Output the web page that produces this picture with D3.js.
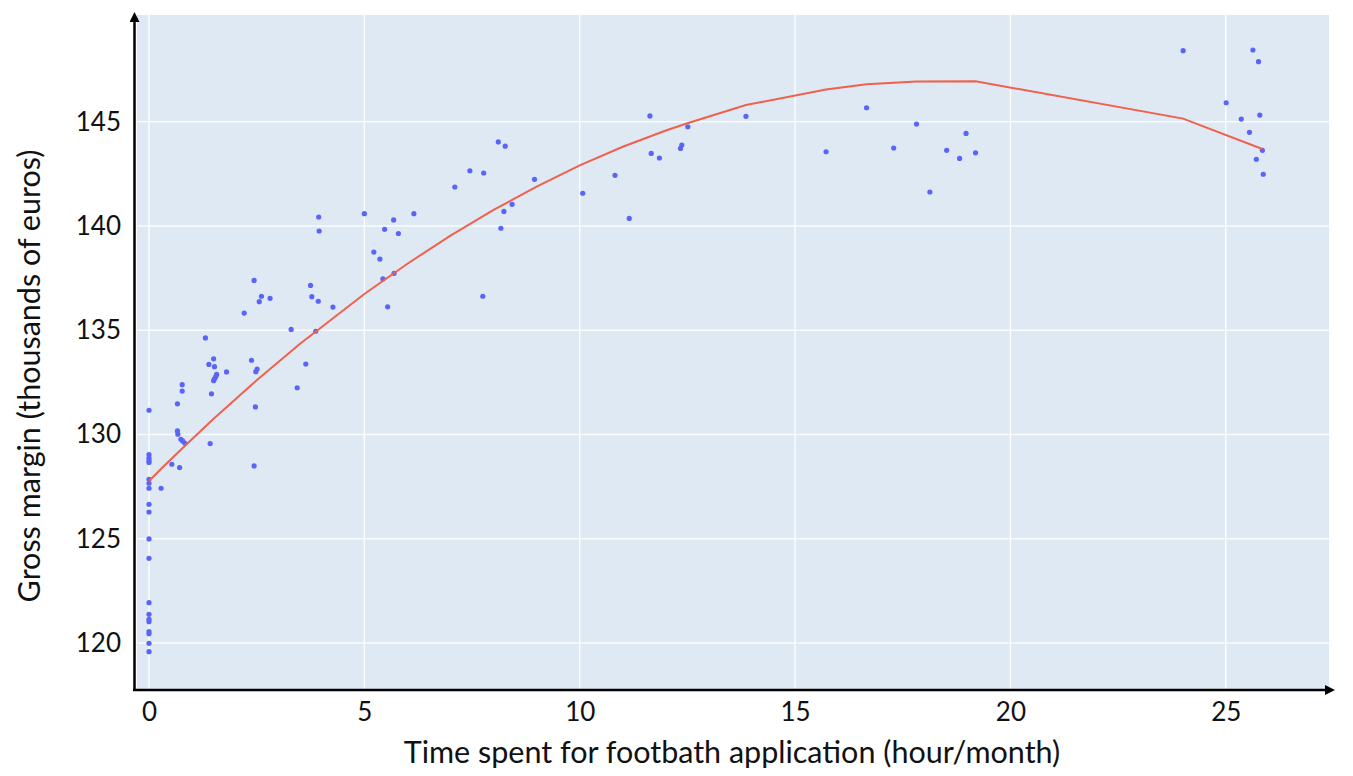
<!DOCTYPE html>
<html>
<head>
<meta charset="utf-8">
<script src="https://cdn.jsdelivr.net/npm/d3@7"></script>
<style>
  body { margin: 0; background: #fff; }
  svg { display: block; }
  .tick text { font-family: Lato, "Open Sans", sans-serif; fill: #111; }
</style>
</head>
<body>
<div id="chart"></div>
<script>
// Scatter data (hours/month, gross margin in thousands of euros)
const timeSpent = [
  0, 0, 0, 0, 0, 0, 0, 0, 0, 0, 0, 0, 0, 0, 0, 0, 0, 0, 0, 0,
  0.28, 0.53, 0.71, 0.66, 0.67, 0.74, 0.78, 0.83, 0.66, 0.77, 0.77,
  1.31, 1.50, 1.39, 1.52, 1.57, 1.55, 1.52, 1.50, 1.45, 1.42, 1.80,
  2.21, 2.38, 2.44, 2.51, 2.48, 2.47, 2.44, 2.61, 2.56, 2.81,
  3.30, 3.44, 3.64, 3.75, 3.78, 3.93, 3.87, 3.94, 3.95, 4.27,
  5.00, 5.22, 5.36, 5.47, 5.68, 5.79, 6.15, 5.43, 5.69, 5.54,
  7.10, 7.45, 7.77, 8.11, 8.27, 8.95, 8.43, 8.24, 8.17, 7.75,
  10.07, 10.82, 11.15, 11.63, 11.66, 11.85, 12.34, 12.37, 12.51,
  13.86, 15.72, 16.66, 17.29, 17.82, 18.13, 18.52, 18.82, 18.97, 19.19,
  24.01, 25.63, 25.76, 25.01, 25.36, 25.79, 25.55, 25.85, 25.71, 25.87
];
const grossMargin = [
  131.16, 129.03, 128.86, 128.74, 128.66, 127.85, 127.66, 127.42, 126.65, 126.28,
  124.99, 124.06, 121.93, 121.37, 121.13, 121.02, 120.54, 120.44, 119.98, 119.58,
  127.42, 128.57, 128.41, 130.17, 130.01, 129.77, 129.69, 129.59, 131.47, 132.39, 132.08,
  134.63, 133.63, 133.36, 133.25, 132.88, 132.77, 132.67, 132.58, 131.95, 129.56, 133.00,
  135.82, 133.56, 137.39, 133.14, 133.01, 131.32, 128.49, 136.63, 136.37, 136.53,
  135.04, 132.24, 133.38, 137.15, 136.61, 136.39, 134.95, 140.43, 139.76, 136.11,
  140.59, 138.75, 138.41, 139.84, 140.29, 139.64, 140.59, 137.46, 137.73, 136.12,
  141.87, 142.65, 142.54, 144.03, 143.83, 142.24, 141.04, 140.70, 139.89, 136.63,
  141.57, 142.43, 140.36, 145.28, 143.48, 143.26, 143.72, 143.88, 144.76,
  145.26, 143.56, 145.67, 143.74, 144.89, 141.63, 143.63, 143.24, 144.44, 143.51,
  148.41, 148.44, 147.88, 145.91, 145.13, 145.32, 144.49, 143.63, 143.20, 142.48
];

// Fitted curve
const fitX = [0, 0.3, 0.8, 1.5, 2.5, 3.5, 5, 6, 7, 8, 9, 10, 11, 12, 12.5, 13.86, 15.72, 16.66, 17.82, 19.19, 24.01, 25.85];
const fitY = [127.77, 128.39, 129.39, 130.75, 132.60, 134.34, 136.74, 138.19, 139.54, 140.77, 141.89, 142.91, 143.80, 144.58, 144.93, 145.80, 146.55, 146.80, 146.93, 146.94, 145.15, 143.69];

const xTicks = [0, 5, 10, 15, 20, 25];
const yTicks = [120, 125, 130, 135, 140, 145];

const xTitle = "Time spent for footbath application (hour/month)";
const yTitle = "Gross margin (thousands of euros)";

// Chart Dimensions
const W = 1353, H = 776;
const plot = { left: 137, right: 1329, top: 15, bottom: 689 };

const svg = d3.select("#chart")
  .append("svg")
  .attr("width", W)
  .attr("height", H);

// Scales
const x = d3.scaleLinear().domain([-0.279, 27.397]).range([plot.left, plot.right]);
const y = d3.scaleLinear().domain([117.79, 150.12]).range([plot.bottom, plot.top]);

// Plot background
svg.append("rect")
  .attr("x", plot.left)
  .attr("y", plot.top)
  .attr("width", plot.right - plot.left)
  .attr("height", plot.bottom - plot.top)
  .attr("fill", "#dfe9f4");

// Grid
svg.append("g")
  .selectAll("line.gx")
  .data(xTicks)
  .join("line")
  .attr("x1", d => x(d)).attr("x2", d => x(d))
  .attr("y1", plot.top).attr("y2", plot.bottom)
  .attr("stroke", "#fff").attr("stroke-opacity", 0.85).attr("stroke-width", 1.5);

svg.append("g")
  .selectAll("line.gy")
  .data(yTicks)
  .join("line")
  .attr("x1", plot.left).attr("x2", plot.right)
  .attr("y1", d => y(d)).attr("y2", d => y(d))
  .attr("stroke", "#fff").attr("stroke-opacity", 0.85).attr("stroke-width", 1.5);

// Points
svg.append("g")
  .selectAll("circle")
  .data(timeSpent.map((t, i) => [t, grossMargin[i]]))
  .join("circle")
  .attr("cx", d => x(d[0]))
  .attr("cy", d => y(d[1]))
  .attr("r", 2.6)
  .attr("fill", "#5a64f6");

// Fit line
const line = d3.line()
  .x(d => x(d[0]))
  .y(d => y(d[1]));

svg.append("path")
  .datum(fitX.map((t, i) => [t, fitY[i]]))
  .attr("d", line)
  .attr("fill", "none")
  .attr("stroke", "#f0604b")
  .attr("stroke-width", 2);

// Tick labels
const xAxis = svg.append("g")
  .attr("transform", `translate(0,${plot.bottom})`)
  .call(d3.axisBottom(x).tickValues(xTicks).tickSize(0).tickPadding(14));
xAxis.select(".domain").remove();
xAxis.selectAll("text").style("font-size", "26px");

const yAxis = svg.append("g")
  .attr("transform", `translate(${plot.left - 16},0)`)
  .call(d3.axisLeft(y).tickValues(yTicks).tickSize(0).tickPadding(0));
yAxis.select(".domain").remove();
yAxis.selectAll("text").style("font-size", "26px");

// Axis lines with arrows
const defs = svg.append("defs");
defs.append("marker")
  .attr("id", "arrow")
  .attr("viewBox", "0 0 10 10")
  .attr("refX", 5).attr("refY", 5)
  .attr("markerWidth", 4).attr("markerHeight", 4)
  .attr("orient", "auto")
  .append("path")
  .attr("d", "M0,0 L10,5 L0,10 z")
  .attr("fill", "#000");

svg.append("line")
  .attr("x1", 134.5).attr("y1", 690.5)
  .attr("x2", 134.5).attr("y2", 17)
  .attr("stroke", "#000").attr("stroke-width", 2.5)
  .attr("marker-end", "url(#arrow)");

svg.append("line")
  .attr("x1", 133).attr("y1", 690)
  .attr("x2", 1330).attr("y2", 690)
  .attr("stroke", "#000").attr("stroke-width", 2.5)
  .attr("marker-end", "url(#arrow)");

// Axis titles
svg.append("text")
  .attr("x", 732)
  .attr("y", 763)
  .attr("text-anchor", "middle")
  .style("font-family", "Lato, 'Open Sans', sans-serif")
  .style("font-size", "30.5px")
  .attr("fill", "#111")
  .text(xTitle);

svg.append("text")
  .attr("transform", "translate(40,376) rotate(-90)")
  .attr("text-anchor", "middle")
  .style("font-family", "Lato, 'Open Sans', sans-serif")
  .style("font-size", "30.5px")
  .attr("fill", "#111")
  .text(yTitle);
</script>
</body>
</html>
